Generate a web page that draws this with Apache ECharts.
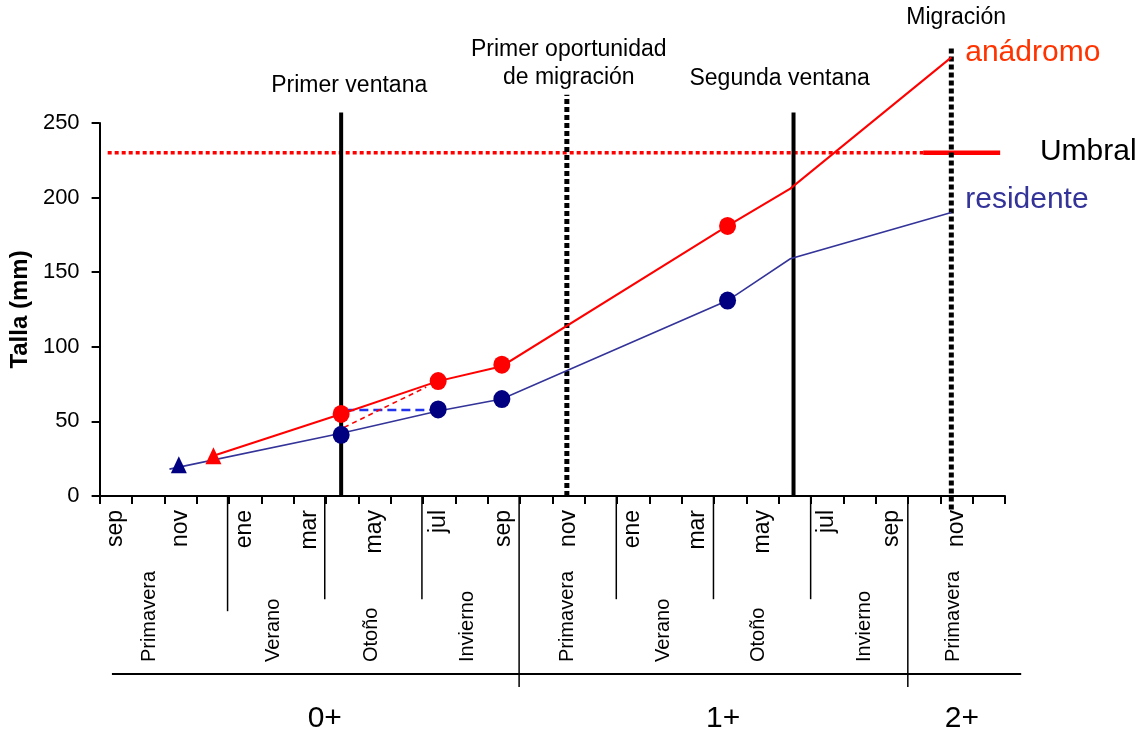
<!DOCTYPE html>
<html>
<head>
<meta charset="utf-8">
<title>Talla anádromo / residente</title>
<script src="https://cdn.jsdelivr.net/npm/echarts@6/dist/echarts.min.js"></script>
<style>
  html, body { margin: 0; padding: 0; background: #fff; }
  #chart { width: 1145px; height: 736px; }
</style>
</head>
<body>
<div id="chart"></div>
<script>
// meses del eje x (28 meses, de sep del año 0 a dic del año 2)
const months = ['sep', 'oct', 'nov', 'dic', 'ene', 'feb', 'mar', 'abr', 'may', 'jun', 'jul', 'ago',
  'sep', 'oct', 'nov', 'dic', 'ene', 'feb', 'mar', 'abr', 'may', 'jun', 'jul', 'ago',
  'sep', 'oct', 'nov', 'dic']
const yTicks = [0, 50, 100, 150, 200, 250]

// talla (mm) en el tiempo; x = meses desde septiembre
const anadromoLine = [[3.52, 27], [7.47, 55], [10.47, 77], [12.44, 87], [19.42, 181], [21.36, 206], [26.34, 294]]
const residenteLine = [[2.16, 18], [7.47, 42], [10.47, 57], [12.44, 65], [19.42, 131], [21.36, 159], [26.34, 190]]
const anadromoDots = [[7.47, 55], [10.47, 77], [12.44, 88], [19.42, 181]]
const residenteDots = [[7.47, 41], [10.47, 58], [12.44, 65], [19.42, 131]]
const anadromoTri = [[3.52, 27]]
const residenteTri = [[2.45, 21]]
const saltoAnadromo = [[7.56, 46], [10.1, 73]]   // flecha roja discontinua
const saltoResidente = [[7.6, 57.6], [10.47, 57.6]] // línea azul discontinua
const umbral = 230
const umbralPunteado = [0.25, 25.47]
const umbralSolido = [25.47, 27.85]
// ventanas de migración: [mes, talla del extremo superior]
const ventanas = [[7.47, 257], [21.46, 257]]
const oportunidades = [[14.45, 269], [26.34, 300]]

// estaciones y años bajo el eje
const seasons = ['Primavera', 'Verano', 'Otoño', 'Invierno', 'Primavera', 'Verano', 'Otoño', 'Invierno', 'Primavera']
const seasonX = [1.6, 5.43, 8.43, 11.42, 14.48, 17.47, 20.38, 23.65, 26.4]
const seasonCuts = [4, 7, 10, 16, 19, 22]
const yearCuts = [13, 25]
const years = ['0+', '1+', '2+']
const yearX = [7.0, 19.3, 26.67]

// textos
const notas = ['Primer ventana', 'Primer oportunidad\nde migración', 'Segunda ventana', 'Migración']
const leyenda = ['anádromo', 'Umbral', 'residente']

const FONT = '"Liberation Sans", Arial, sans-serif'
const RED = '#ff0000'
const NAVY = '#000080'
const BLUE = '#333399'

const chart = echarts.init(document.getElementById('chart'))

// serie de texto suelto (scatter invisible con etiqueta)
function textSeries(points, labelOpt, grid) {
  return {
    type: 'scatter',
    xAxisIndex: grid ? 2 : 1,
    yAxisIndex: grid ? 1 : 0,
    symbolSize: 1,
    itemStyle: { color: 'transparent', opacity: 1 },
    clip: false,
    silent: true,
    z: 10,
    data: points.map(p => ({
      value: [p.x, p.y],
      label: Object.assign({
        show: true, position: 'inside', formatter: p.text, opacity: 1,
        fontFamily: FONT, color: '#000', align: 'center', verticalAlign: 'middle'
      }, labelOpt, p.label || {})
    }))
  }
}

function linesSeries(list, style, extra, grid) {
  return Object.assign({
    type: 'lines',
    coordinateSystem: 'cartesian2d',
    xAxisIndex: grid ? 2 : 1,
    yAxisIndex: grid ? 1 : 0,
    polyline: true,
    clip: false,
    silent: true,
    symbol: 'none',
    lineStyle: Object.assign({ opacity: 1, curveness: 0 }, style),
    data: list.map(c => ({ coords: c }))
  }, extra || {})
}

function markerSeries(data, symbol, size, color) {
  return {
    type: 'scatter', xAxisIndex: 1, yAxisIndex: 0, data: data,
    symbol: symbol, symbolSize: size,
    itemStyle: { color: color, opacity: 1 },
    z: 5, silent: true
  }
}

const option = {
  animation: false,
  backgroundColor: '#fff',
  grid: [
    { left: 98, top: 123, width: 907, height: 373 },
    { left: 98, top: 496, width: 907, height: 240 }
  ],
  xAxis: [
    {
      type: 'category', gridIndex: 0, data: months, boundaryGap: true,
      axisLine: { lineStyle: { color: '#000', width: 2 } },
      axisTick: { show: true, interval: 0, length: 8, lineStyle: { color: '#000', width: 2 } },
      axisLabel: { interval: 1, rotate: 90, fontSize: 23, color: '#000', margin: 14, fontFamily: FONT },
      splitLine: { show: false }
    },
    { type: 'value', gridIndex: 0, min: 0, max: 28, show: false },
    { type: 'value', gridIndex: 1, min: 0, max: 28, show: false }
  ],
  yAxis: [
    {
      type: 'value', gridIndex: 0, min: 0, max: 250, interval: 50,
      name: 'Talla (mm)', nameLocation: 'middle', nameGap: 62,
      nameTextStyle: { fontWeight: 'bold', fontSize: 24, color: '#000', fontFamily: FONT },
      axisLine: { show: true, lineStyle: { color: '#000', width: 2 } },
      axisTick: { show: true, length: 8, lineStyle: { color: '#000', width: 2 }, customValues: yTicks },
      axisLabel: { fontSize: 22, color: '#000', margin: 20, fontFamily: FONT, customValues: yTicks },
      splitLine: { show: false }
    },
    { type: 'value', gridIndex: 1, min: 0, max: 100, inverse: true, show: false }
  ],
  series: [
    // umbral
    linesSeries([[[umbralPunteado[0], umbral], [umbralPunteado[1], umbral]]], { color: RED, width: 3.5, type: [4, 3] }),
    linesSeries([[[umbralSolido[0], umbral], [umbralSolido[1], umbral]]], { color: RED, width: 4.5 }),
    // ventanas y oportunidades
    linesSeries(ventanas.map(v => [[v[0], 0], [v[0], v[1]]]), { color: '#000', width: 4 }),
    linesSeries(oportunidades.map((v, i) => [[v[0], i ? -9 : 0], [v[0], v[1]]]), { color: '#000', width: 5, type: [5, 3] }),
    // trayectorias
    linesSeries([anadromoLine], { color: RED, width: 2 }, { symbol: ['none', 'arrow'], symbolSize: 11, z: 4 }),
    linesSeries([residenteLine], { color: BLUE, width: 1.6 }, { symbol: ['none', 'arrow'], symbolSize: 11, z: 4 }),
    linesSeries([saltoAnadromo], { color: RED, width: 1.6, type: [5, 4] }, { symbol: ['none', 'arrow'], symbolSize: 8, z: 4 }),
    linesSeries([saltoResidente], { color: '#2233ee', width: 2.5, type: [9, 5] }, { z: 3 }),
    // marcadores
    markerSeries(anadromoDots, 'circle', [17, 18], RED),
    markerSeries(residenteDots, 'circle', [17, 18], NAVY),
    markerSeries(anadromoTri, 'triangle', [16, 17], RED),
    markerSeries(residenteTri, 'triangle', [16, 17], NAVY),
    // anotaciones superiores
    textSeries([
      { x: 7.72, y: 274.8, text: notas[0] },
      { x: 14.51, y: 289.5, text: notas[1] },
      { x: 21.03, y: 279.5, text: notas[2] },
      { x: 26.49, y: 320.4, text: notas[3] }
    ], { fontSize: 23, lineHeight: 28 }),
    textSeries([
      { x: 26.77, y: 297, text: leyenda[0], label: { color: '#ff3300' } },
      { x: 29.08, y: 230.6, text: leyenda[1] },
      { x: 26.77, y: 198.4, text: leyenda[2], label: { color: BLUE } }
    ], { fontSize: 30, align: 'left' }),
    // divisiones de estaciones y años
    linesSeries(seasonCuts.map((x, i) => [[x, 0], [x, i ? 43 : 48]]), { color: '#000', width: 1.5 }, {}, true),
    linesSeries(yearCuts.map(x => [[x, 0], [x, 79.6]]), { color: '#000', width: 1.5 }, {}, true),
    linesSeries([[[0.43, 74.2], [28.5, 74.2]]], { color: '#000', width: 2 }, {}, true),
    textSeries(seasons.map((s, i) => ({ x: seasonX[i], y: 69.2, text: s })), { fontSize: 20, rotate: 90, align: 'left' }, true),
    textSeries(years.map((s, i) => ({ x: yearX[i], y: 92.9, text: s })), { fontSize: 30 }, true)
  ]
}

chart.setOption(option)
</script>
</body>
</html>
